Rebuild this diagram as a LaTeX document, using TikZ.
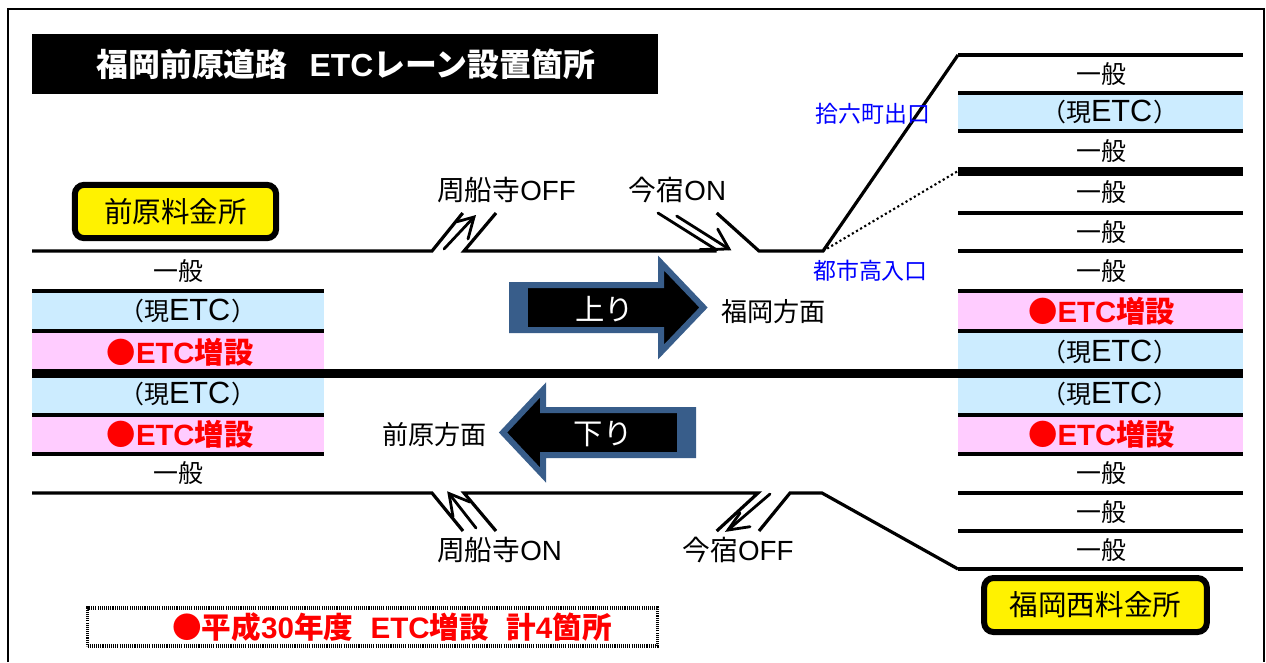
\documentclass[tikz,border=0pt]{standalone}
\usepackage{fontspec}
\setmainfont{Liberation Sans}
\newfontfamily\cjk{Noto Sans CJK JP}
\newcommand{\J}[1]{{\cjk #1}}
\newcommand{\GE}{{\fontsize{23pt}{25pt}\selectfont ETC}\hspace{1.2pt}}
\definecolor{lblue}{RGB}{204,236,255}
\definecolor{lpink}{RGB}{255,204,255}
\definecolor{steel}{RGB}{56,93,138}
\tikzset{
  road/.style={draw=black,line width=2.4pt},
  sep/.style={draw=black,line width=6.5pt},
  lab/.style={font=\fontsize{18.7pt}{20pt}\selectfont,inner sep=0pt,text=black},
  ramplab/.style={font=\fontsize{20.8pt}{22pt}\selectfont,inner sep=0pt,text=black},
  dirlab/.style={font=\fontsize{19.6pt}{22pt}\selectfont,inner sep=0pt,text=black},
  redlab/.style={font=\fontsize{22pt}{24pt}\selectfont\bfseries,inner sep=0pt,text=red},
  bluelab/.style={font=\fontsize{17.2pt}{19pt}\selectfont,inner sep=0pt,text=blue},
  yellowbox/.style={draw=black,line width=4.5pt,fill=yellow,rounded corners=7pt,font=\fontsize{21.4pt}{23pt}\selectfont,inner sep=0pt},
  wedge/.style={draw=black,line width=2.1pt,line cap=round,line join=miter},
  dirarrow/.style={draw=steel,line width=4.5pt,fill=black,line join=miter},
  dirtext/.style={text=white,font=\fontsize{22pt}{24pt}\selectfont,inner sep=0pt}
}
\begin{document}
\begin{tikzpicture}[x=0.75pt,y=-0.75pt]
\useasboundingbox (0,0) rectangle (1266,662);
\fill[white] (0,0) rectangle (1266,662);
% frame
\draw[black,line width=1.5pt] (8,662) -- (8,9) -- (1263.5,9) -- (1263.5,662);
% title
\node[fill=black,inner sep=0pt,minimum width=469.5pt,minimum height=45pt,text=white,font=\fontsize{23.9pt}{26pt}\selectfont\bfseries] (title) at (345,64) {\hspace{1pt}\J{福岡前原道路}\hspace{16.5pt}ETC\J{レーン設置箇所}};
% bands left
\fill[lblue] (32,291) rectangle (324,331);
\fill[lpink] (32,331) rectangle (324,372);
\fill[lblue] (32,374) rectangle (324,415);
\fill[lpink] (32,415) rectangle (324,454);
% bands right
\fill[lblue] (958,93) rectangle (1243,131);
\fill[lpink] (958,291) rectangle (1243,331);
\fill[lblue] (958,333) rectangle (1243,372);
\fill[lblue] (958,374) rectangle (1243,415);
\fill[lpink] (958,415) rectangle (1243,454);
% lane lines left
\foreach \y in {291,331,415,454}{\draw[road] (32,\y) -- (324,\y);}
% lane lines right
\foreach \y in {55,93,131,213,251,291,331,415,454,493,531,569}{\draw[road] (958,\y) -- (1243,\y);}
\draw[sep] (958,171.5) -- (1243,171.5);
\draw[sep] (32,373.5) -- (1243,373.5);
% upper road
\coordinate (uA) at (432,251);
\coordinate (uB) at (464,251);
\coordinate (uC) at (716.7,251);
\coordinate (uD) at (759,251);
\coordinate (uE) at (823,251);
\coordinate (topR) at (958,55);
\coordinate (midR) at (958,171);
\draw[road] (32,251) -- (uA) -- (462.7,213);
\draw[road] (496,213) -- (uB) -- (uC);
\draw[road] (716.7,213) -- (uD) -- (uE) -- (topR);
\draw[black,line width=1.6pt,dotted] (uE) -- (midR);
% ramp arrows upper
\draw[wedge] (444,249) -- (474,217);
\draw[wedge] (457,221.7) -- (474,217) -- (468,239);
\draw[wedge] (658,213) -- (716.7,250);
\draw[wedge] (676.7,216) -- (729,249);
\draw[wedge] (717.7,229) -- (729,249) -- (700,249.5);
% lower road
\coordinate (lA) at (432,493);
\coordinate (lB) at (464,493);
\coordinate (lC) at (758,493);
\coordinate (lD) at (790,493);
\coordinate (lE) at (822,493);
\coordinate (botR) at (958,569);
\draw[road] (32,493) -- (lA) -- (463,531);
\draw[road] (496,531) -- (lB) -- (lC) -- (716.7,531);
\draw[road] (759,531) -- (lD) -- (lE) -- (botR);
% ramp arrows lower
\draw[wedge] (449,493.5) -- (476,528);
\draw[wedge] (453,516.7) -- (449,493.5) -- (470,502);
\draw[wedge] (770,494) -- (728,530);
\draw[wedge] (740,513) -- (728,530) -- (750,526.7);
% lanes text left
\node[lab] (l1) at (178,271) {\J{一般}};
\node[lab] (l2) at (188,311) {\J{（現}\GE\J{）}};
\node[redlab] (l3) at (180,352) {\J{●}ETC\J{増設}};
\node[lab] (l4) at (188,394) {\J{（現}\GE\J{）}};
\node[redlab] (l5) at (180,434) {\J{●}ETC\J{増設}};
\node[lab] (l6) at (178,473) {\J{一般}};
% lanes text right
\node[lab] (r1) at (1101,74) {\J{一般}};
\node[lab] (r2) at (1110,112) {\J{（現}\GE\J{）}};
\node[lab] (r3) at (1101,151) {\J{一般}};
\node[lab] (r4) at (1101,192) {\J{一般}};
\node[lab] (r5) at (1101,232) {\J{一般}};
\node[lab] (r6) at (1101,271) {\J{一般}};
\node[redlab] (r7) at (1101.5,311) {\J{●}ETC\J{増設}};
\node[lab] (r8) at (1110,352) {\J{（現}\GE\J{）}};
\node[lab] (r9) at (1110,394) {\J{（現}\GE\J{）}};
\node[redlab] (r10) at (1101.5,434) {\J{●}ETC\J{増設}};
\node[lab] (r11) at (1101,473) {\J{一般}};
\node[lab] (r12) at (1101,512) {\J{一般}};
\node[lab] (r13) at (1101,550) {\J{一般}};
% ramp labels
\node[ramplab] (n1) at (506.5,190) {\J{周船寺}OFF};
\node[ramplab] (n2) at (677.5,190) {\J{今宿}ON};
\node[ramplab] (n3) at (499.5,550) {\J{周船寺}ON};
\node[ramplab] (n4) at (738,550) {\J{今宿}OFF};
\node[bluelab] (b1) at (873,114) {\J{拾六町出口}};
\node[bluelab] (b2) at (870.5,271) {\J{都市高入口}};
\node[dirlab] (d1) at (773.5,312) {\J{福岡方面}};
\node[dirlab] (d2) at (434.5,435) {\J{前原方面}};
% toll boxes
\node[yellowbox,minimum width=151pt,minimum height=40pt] (t1) at (175.5,211.5) {\J{前原料金所}};
\node[yellowbox,minimum width=167pt,minimum height=40.5pt] (t2) at (1095.5,605) {\J{福岡西料金所}};
% direction arrows
\draw[dirarrow] (512,285) -- (661,285) -- (661,263) -- (703.5,307.5) -- (661,352) -- (661,330) -- (512,330) -- cycle;
\fill[steel] (509,282) rectangle (528,333);
\node[dirtext] (up) at (604.5,309) {\J{上り}};
\draw[dirarrow] (693,410) -- (543,410) -- (543,390) -- (503,432.5) -- (543,475) -- (543,455) -- (693,455) -- cycle;
\fill[steel] (677,407) rectangle (696,458);
\node[dirtext] (down) at (603,434) {\J{下り}};
% note
\node[draw=black,line width=2.6pt,dash pattern=on 0.8pt off 0.8pt,minimum width=427.5pt,minimum height=28.5pt,inner sep=0pt] (notebox) at (372.5,627) {};
\node[redlab,font=\fontsize{22.2pt}{24pt}\selectfont\bfseries] (note) at (392,627) {\J{●平成}30\J{年度}\hspace{13pt}ETC\J{増設}\hspace{13pt}\J{計}4\J{箇所}};
\end{tikzpicture}
\end{document}
